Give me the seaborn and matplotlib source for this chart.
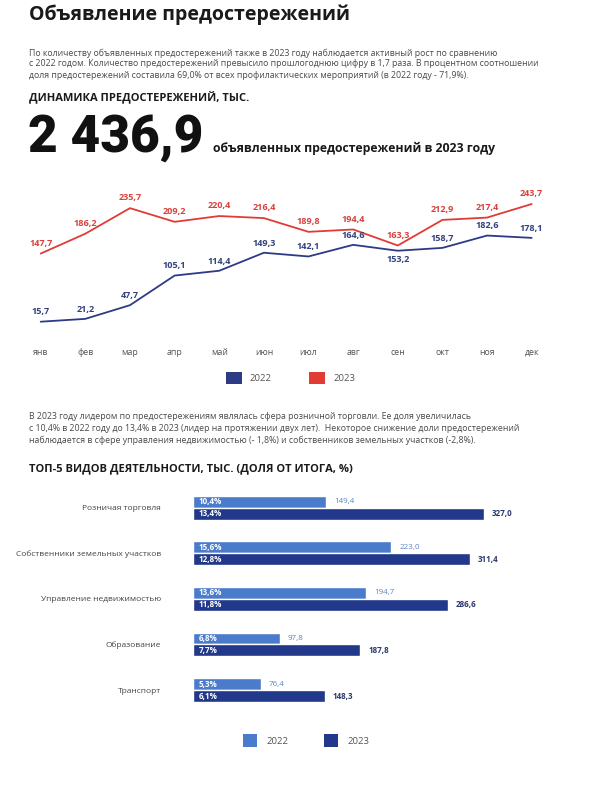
import matplotlib
matplotlib.use("Agg")
import matplotlib.pyplot as plt
from matplotlib.patches import Patch
import seaborn as sns
import pandas as pd

# --- data ---
months = ["янв", "фев", "мар", "апр", "май", "июн", "июл", "авг", "сен", "окт", "ноя", "дек"]
warn_2022 = [15.7, 21.2, 47.7, 105.1, 114.4, 149.3, 142.1, 164.6, 153.2, 158.7, 182.6, 178.1]
warn_2023 = [147.7, 186.2, 235.7, 209.2, 220.4, 216.4, 189.8, 194.4, 163.3, 212.9, 217.4, 243.7]

activities = ["Розничая торговля", "Собственники земельных участков",
              "Управление недвижимостью", "Образование", "Транспорт"]
act_2022 = [149.4, 223.0, 194.7, 97.8, 76.4]
act_2023 = [327.0, 311.4, 286.6, 187.8, 148.3]
share_2022 = ["10,4%", "15,6%", "13,6%", "6,8%", "5,3%"]
share_2023 = ["13,4%", "12,8%", "11,8%", "7,7%", "6,1%"]
years = ["2022", "2023"]

LINE_COLORS = {"2022": "#2D3A86", "2023": "#E23B36"}
BAR_COLORS = {"2022": "#4A7CCB", "2023": "#22388A"}

sns.set_theme(style="white")
plt.rcParams["font.family"] = ["Open Sans", "DejaVu Sans"]


def fmt(v):
    return f"{v:.1f}".replace(".", ",")


def fx(px):
    return px / 600


def fy(py):
    return 1 - py / 800


fig = plt.figure(figsize=(6, 8), dpi=100)

# --- header texts ---
fig.text(fx(29), fy(15), "Объявление предостережений", fontsize=14, weight="bold",
         color="#1a1a1a", va="center")
para1 = ["По количеству объявленных предостережений также в 2023 году наблюдается активный рост по сравнению",
         "с 2022 годом. Количество предостережений превысило прошлогоднюю цифру в 1,7 раза. В процентном соотношении",
         "доля предостережений составила 69,0% от всех профилактических мероприятий (в 2022 году - 71,9%)."]
for i, line in enumerate(para1):
    fig.text(fx(29), fy(53 + i * 11), line, fontsize=6.3, color="#4a4a4a", va="center")
fig.text(fx(29), fy(97.5), "ДИНАМИКА ПРЕДОСТЕРЕЖЕНИЙ, ТЫС.", fontsize=8, weight="bold",
         color="#1a1a1a", va="center")
fig.text(fx(28), fy(152), "2 436,9", fontsize=37, weight="black", family=["Roboto", "DejaVu Sans"],
         color="#111111", va="baseline")
fig.text(fx(213), fy(152), "объявленных предостережений в 2023 году", fontsize=8.8,
         weight="bold", color="#1a1a1a", va="baseline")

# --- line chart ---
df_line = pd.DataFrame({
    "month": list(range(len(months))) * 2,
    "value": warn_2022 + warn_2023,
    "year": ["2022"] * len(months) + ["2023"] * len(months),
})
ax1 = fig.add_axes([fx(18.4), fy(329.8), fx(535.6), 134.2 / 800])
sns.lineplot(data=df_line, x="month", y="value", hue="year", palette=LINE_COLORS,
             linewidth=1.3, legend=False, ax=ax1)
ax1.set_xlim(-0.5, 11.5)
ax1.set_ylim(0, 260)
ax1.set_xticks(range(len(months)))
ax1.set_xticklabels(months, fontsize=6.3, color="#555555")
ax1.tick_params(axis="x", length=0, pad=13)
ax1.set_yticks([])
ax1.set_xlabel("")
ax1.set_ylabel("")
for s in ax1.spines.values():
    s.set_visible(False)
ax1.patch.set_alpha(0)

for i, v in enumerate(warn_2023):
    ax1.annotate(fmt(v), (i, v), xytext=(0, 7.5), textcoords="offset points", ha="center",
                 va="center", fontsize=6.6, weight="bold", color="#D8433F", annotation_clip=False)
for i, v in enumerate(warn_2022):
    dy = -6 if months[i] == "сен" else 7
    ax1.annotate(fmt(v), (i, v), xytext=(0, dy), textcoords="offset points", ha="center",
                 va="center", fontsize=6.6, weight="bold", color="#34427F", annotation_clip=False)

line_handles = [Patch(facecolor=LINE_COLORS[y], edgecolor="none") for y in years]
fig.legend(line_handles, years, loc="center left", bbox_to_anchor=(fx(226), fy(378)),
           ncol=2, frameon=False, fontsize=6.8, handlelength=1.7, handleheight=1.7,
           handletextpad=0.8, columnspacing=4.0, borderpad=0, borderaxespad=0,
           labelcolor="#555555")

# --- second paragraph ---
para2 = ["В 2023 году лидером по предостережениям являлась сфера розничной торговли. Ее доля увеличилась",
         "с 10,4% в 2022 году до 13,4% в 2023 (лидер на протяжении двух лет).  Некоторое снижение доли предостережений",
         "наблюдается в сфере управления недвижимостью (- 1,8%) и собственников земельных участков (-2,8%)."]
for i, line in enumerate(para2):
    fig.text(fx(29), fy(416.5 + i * 11.7), line, fontsize=6.3, color="#4a4a4a", va="center")
fig.text(fx(29), fy(468.5), "ТОП-5 ВИДОВ ДЕЯТЕЛЬНОСТИ, ТЫС. (ДОЛЯ ОТ ИТОГА, %)", fontsize=8,
         weight="bold", color="#1a1a1a", va="center")

# --- bar chart ---
df_bar = pd.DataFrame({
    "activity": activities * 2,
    "value": act_2022 + act_2023,
    "year": ["2022"] * len(activities) + ["2023"] * len(activities),
})
ax2 = fig.add_axes([fx(192.7), fy(712.9), 356.4 / 600, 228 / 800])
sns.barplot(data=df_bar, y="activity", x="value", hue="year", palette=BAR_COLORS,
            orient="h", width=0.52, legend=False, ax=ax2, saturation=1)
ax2.set_xlim(0, 400)
ax2.set_ylim(4.5, -0.5)
ax2.set_xticks([])
ax2.set_xlabel("")
ax2.set_ylabel("")
ax2.tick_params(axis="y", length=0, pad=23)
plt.setp(ax2.get_yticklabels(), fontsize=6.0, color="#444444")
for s in ax2.spines.values():
    s.set_visible(False)
ax2.patch.set_alpha(0)

shares = [share_2022, share_2023]
val_style = [dict(color="#5B84C6", weight="normal"), dict(color="#2B3A6E", weight="bold")]
for k, cont in enumerate(ax2.containers):
    for j, bar in enumerate(cont):
        yc = bar.get_y() + bar.get_height() / 2
        ax2.text(7, yc, shares[k][j], ha="left", va="center", fontsize=5.8,
                 weight="bold", color="white")
        ax2.text(bar.get_width() + 9, yc, fmt(bar.get_width()), ha="left", va="center",
                 fontsize=5.8, **val_style[k])

bar_handles = [Patch(facecolor=BAR_COLORS[y], edgecolor="none") for y in years]
fig.legend(bar_handles, years, loc="center left", bbox_to_anchor=(fx(242.7), fy(740.5)),
           ncol=2, frameon=False, fontsize=6.8, handlelength=1.5, handleheight=1.6,
           handletextpad=1.0, columnspacing=3.8, borderpad=0, borderaxespad=0,
           labelcolor="#555555")

fig.savefig("out.png", dpi=100, facecolor="white")
